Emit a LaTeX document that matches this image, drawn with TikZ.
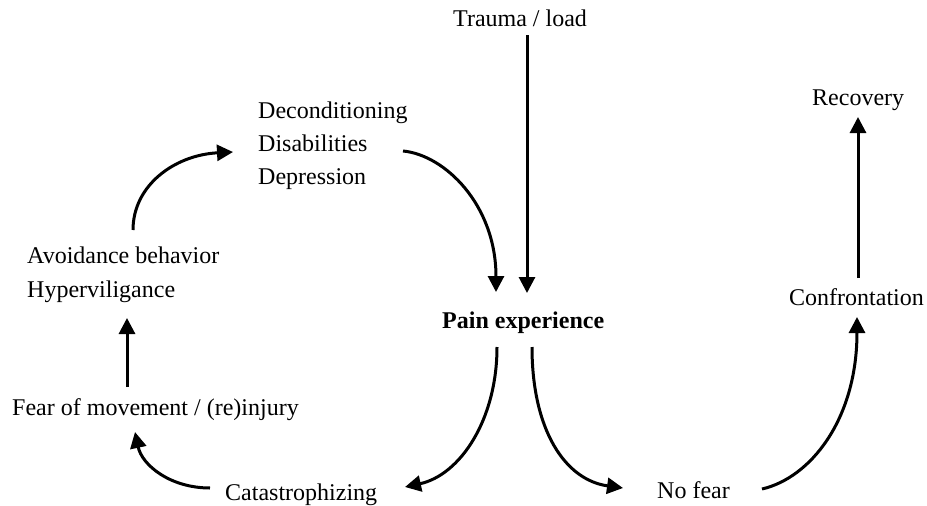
\documentclass[tikz,border=0pt]{standalone}
\usepackage{fontspec}
\setmainfont{Liberation Serif}
\usetikzlibrary{arrows.meta,calc}
\begin{document}
\begin{tikzpicture}[x=1pt,y=-1pt,
  lbl/.style={anchor=base west,inner sep=0pt,font=\fontsize{24}{28}\selectfont},
  arr/.style={line width=3pt,-{Triangle[width=16pt,length=16pt]}}]
\useasboundingbox (0,0) rectangle (927,506);

% labels
\node[lbl] (trauma) at (453,27) {Trauma / load};
\node[lbl] (dec1) at (258,118) {Deconditioning};
\node[lbl] (dec2) at (258,151) {Disabilities};
\node[lbl] (dec3) at (258,184) {Depression};
\node[lbl] (recovery) at (812,105) {Recovery};
\node[lbl] (avo1) at (27,263) {Avoidance behavior};
\node[lbl] (avo2) at (27,297) {Hyperviligance};
\node[lbl,font=\fontsize{24}{28}\selectfont\bfseries] (pain) at (442,328) {Pain experience};
\node[lbl] (confr) at (789,305) {Confrontation};
\node[lbl] (fear) at (12,415) {Fear of movement / (re)injury};
\node[lbl] (cat) at (225,500) {Catastrophizing};
\node[lbl] (nofear) at (657,498) {No fear};

% straight connectors
\draw[arr] ($(trauma.base west)+(74,8)$) -- ($(pain.base west)+(85,-35)$);
\draw[arr] ($(fear.base west)+(115,-28)$) -- ($(avo2.base west)+(100,21)$);
\draw[arr] ($(confr.base west)+(69,-27)$) -- ($(recovery.base west)+(46,12)$);

% curved connectors
\draw[arr] ($(dec2.base west)+(145,0)$) .. controls ($(dec2.base west)+(187,4)$) and ($(pain.base west)+(54,-123)$) .. ($(pain.base west)+(54,-36)$);
\draw[arr] ($(avo1.base west)+(106,-33)$) .. controls ($(avo1.base west)+(106,-78)$) and ($(dec2.base west)+(-83,4)$) .. ($(dec2.base west)+(-25,1)$);
\draw[arr] ($(cat.base west)+(-15,-12)$) .. controls ($(cat.base west)+(-55,-12)$) and ($(fear.base west)+(130,50)$) .. ($(fear.base west)+(123,17)$);
\draw[arr] ($(pain.base west)+(55,19)$) .. controls ($(pain.base west)+(55,92)$) and ($(cat.base west)+(235,-25)$) .. ($(cat.base west)+(180,-13)$);
\draw[arr] ($(pain.base west)+(90,19)$) .. controls ($(pain.base west)+(90,102)$) and ($(nofear.base west)+(-92,-18)$) .. ($(nofear.base west)+(-34,-10)$);
\draw[arr] ($(nofear.base west)+(105,-9)$) .. controls ($(nofear.base west)+(153,-20)$) and ($(confr.base west)+(68,115)$) .. ($(confr.base west)+(68,12)$);
\end{tikzpicture}
\end{document}
